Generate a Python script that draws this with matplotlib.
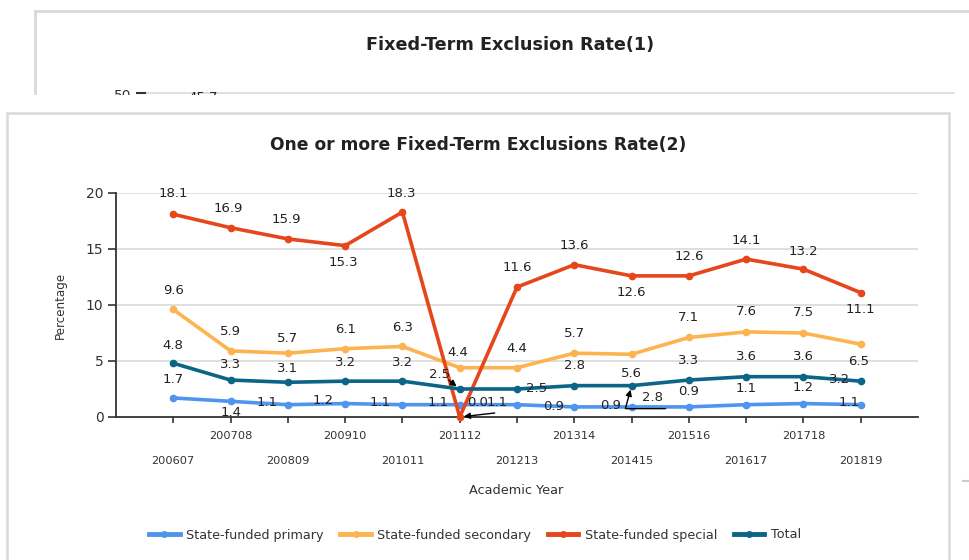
import matplotlib
matplotlib.use('Agg')
import matplotlib.pyplot as plt
from matplotlib.patches import Rectangle
from matplotlib.lines import Line2D

# ---------------- data ----------------
years = ['200607', '200708', '200809', '200910', '201011', '201112', '201213',
         '201314', '201415', '201516', '201617', '201718', '201819']
primary = [1.7, 1.4, 1.1, 1.2, 1.1, 1.1, 1.1, 0.9, 0.9, 0.9, 1.1, 1.2, 1.1]
secondary = [9.6, 5.9, 5.7, 6.1, 6.3, 4.4, 4.4, 5.7, 5.6, 7.1, 7.6, 7.5, 6.5]
special = [18.1, 16.9, 15.9, 15.3, 18.3, 0.0, 11.6, 13.6, 12.6, 12.6, 14.1, 13.2, 11.1]
total = [4.8, 3.3, 3.1, 3.2, 3.2, 2.5, 2.5, 2.8, 2.8, 3.3, 3.6, 3.6, 3.2]
series_names = ['State-funded primary', 'State-funded secondary', 'State-funded special', 'Total']
yticks = [0, 5, 10, 15, 20]
top_title = 'Fixed-Term Exclusion Rate(1)'
main_title = 'One or more Fixed-Term Exclusions Rate(2)'
top_tick = '50'
top_label = '45.7'
x_label = 'Academic Year'
y_label = 'Percentage'

# ---------------- styles ----------------
colors = ['#4F95EE', '#FDB34F', '#E5461B', '#0C6487']
# label offsets in pixels (dx right, dy down)
primary_off = [(0, -18), (0, 11), (-21, -2), (-22, -3), (-22, -2), (-22, -2), (-20, -2),
               (-21, 0), (-21, -1), (0, -15), (0, -16), (0, -16), (-12, -2)]
secondary_off = [(0, -19), (0, -19), (0, -15), (0, -19), (0, -19), (-2, -15), (0, -19),
                 (0, -20), (0, 19), (0, -20), (0, -20), (0, -20), (-2, 17)]
special_off = [(0, -21), (-2, -19), (-2, -19), (-2, 17), (-1, -19), (18, -14), (0, -20),
               (0, -19), (0, 17), (0, -19), (0, -19), (0, -18), (0, 17)]
total_off = [(0, -18), (0, -16), (0, -14), (0, -19), (0, -19), (-20, -15), (20, -1),
             (0, -20), (21, 12), (0, -20), (0, -20), (0, -20), (-21, -2)]
# connector arrows: (series index, point index, start offset px (dx, dy down), connection)
arrows = [(3, 5, (-11, -9), 'arc3'),
          (2, 5, (35, -4), 'arc3'),
          (3, 8, (34, 23), 'angle,angleA=0,angleB=75,rad=0')]

W, H = 970, 560
plt.rcParams['font.family'] = ['DejaVu Sans']
fig = plt.figure(figsize=(W / 100, H / 100), dpi=100)
fig.patch.set_facecolor('white')


def fx(x):
    return x / W


def fy(y):
    return 1 - y / H


# ---------------- top (partially hidden) panel ----------------
ax0 = fig.add_axes([fx(35), fy(95), fx(970 - 35), (95 - 11) / H])
ax0.set_xlim(35, 970)
ax0.set_ylim(95, 11)
ax0.axis('off')
ax0.plot([35, 970], [11, 11], color='#d9d9d9', lw=2, clip_on=False)
ax0.plot([35, 35], [11, 94], color='#d9d9d9', lw=2, clip_on=False)
ax0.plot([145, 954], [93, 93], color='#d9d9d9', lw=1.2, clip_on=False)
ax0.plot([137, 145], [93, 93], color='#333333', lw=1.5, clip_on=False)
ax0.text(510, 45, top_title, ha='center', va='center', fontsize=12.7,
         fontweight='bold', color='#222222')
ax0.text(131, 96, top_tick, ha='right', va='center', fontsize=10, color='#333333',
         clip_on=False)
ax0.text(203, 97, top_label, ha='center', va='center', fontsize=9.5, color='#222222',
         clip_on=False)
# the second panel hides the lower part of the first one
fig.patches.append(Rectangle((0, fy(112)), 1, (112 - 94.5) / H, transform=fig.transFigure,
                             facecolor='white', edgecolor='none', zorder=2))

# ---------------- second panel frame ----------------
fig.patches.append(Rectangle((fx(7), fy(575)), fx(949 - 7), (575 - 113) / H,
                             transform=fig.transFigure, facecolor='none',
                             edgecolor='#d9d9d9', lw=1.8, zorder=3))
fig.lines.append(Line2D([fx(963), fx(970)], [fy(481), fy(481)], transform=fig.transFigure,
                        color='#cccccc', lw=1.5))

# ---------------- main chart ----------------
ax = fig.add_axes([fx(116), fy(417), fx(918 - 116), (417 - 193) / H])
ax.set_zorder(4)
x = list(range(len(years)))
all_series = [primary, secondary, special, total]
all_offsets = [primary_off, secondary_off, special_off, total_off]

for vals, col, name in zip(all_series, colors, series_names):
    ax.plot(x, vals, color=col, lw=2.6, marker='o', ms=4.5, label=name,
            solid_joinstyle='round', clip_on=False, zorder=3)

for vals, offs in zip(all_series, all_offsets):
    for i, (v, (dx, dy)) in enumerate(zip(vals, offs)):
        ax.annotate(f'{v:.1f}', xy=(i, v), xycoords='data', xytext=(dx, -dy),
                    textcoords='offset pixels', ha='center', va='center',
                    fontsize=9.5, color='#222222', zorder=5, annotation_clip=False)

for s, i, (dx, dy), conn in arrows:
    v = all_series[s][i]
    ax.annotate('', xy=(i, v), xycoords='data', xytext=(dx, -dy), textcoords='offset pixels',
                arrowprops=dict(arrowstyle='-|>', color='black', lw=1,
                                shrinkA=0, shrinkB=3, connectionstyle=conn,
                                mutation_scale=9),
                zorder=6, annotation_clip=False)

ax.set_xlim(-1, 13)
ax.set_ylim(0, 20)
ax.set_yticks(yticks)
ax.set_xticks(x)
ax.set_xticklabels([''] * len(x))
ax.tick_params(axis='y', direction='out', length=6, width=1.2, color='#333333',
               labelsize=10, labelcolor='#333333', pad=3)
ax.tick_params(axis='x', direction='out', length=4.5, width=1.2, color='#333333')
ax.grid(axis='y', color='#d9d9d9', lw=1.2)
ax.set_axisbelow(True)
for sp in ['top', 'right']:
    ax.spines[sp].set_visible(False)
for sp in ['left', 'bottom']:
    ax.spines[sp].set_color('#333333')
    ax.spines[sp].set_linewidth(1.3)

# staggered category labels
for i, yr in enumerate(years):
    off = -19 if i % 2 == 1 else -44
    ax.annotate(yr, xy=(i, 0), xycoords=('data', 'axes fraction'), xytext=(0, off),
                textcoords='offset pixels', ha='center', va='center', fontsize=8.2,
                color='#333333', annotation_clip=False)

fig.text(fx(478), fy(145), main_title, ha='center', va='center', fontsize=12.3,
         fontweight='bold', color='#222222')
fig.text(fx(516), fy(490), x_label, ha='center', va='center', fontsize=9.3, color='#333333')
fig.text(fx(60), fy(305), y_label, ha='center', va='center', rotation=90, fontsize=8.6,
         color='#333333')

handles = [Line2D([], [], color=c, lw=3.5, marker='o', ms=4) for c in colors]
fig.legend(handles, series_names, ncol=4, loc='center', bbox_to_anchor=(fx(475), fy(535)),
           frameon=False, fontsize=9.2, handlelength=2.4, handletextpad=0.5,
           columnspacing=1.3, labelcolor='#333333')

fig.savefig('out.png', dpi=100, facecolor='white')
